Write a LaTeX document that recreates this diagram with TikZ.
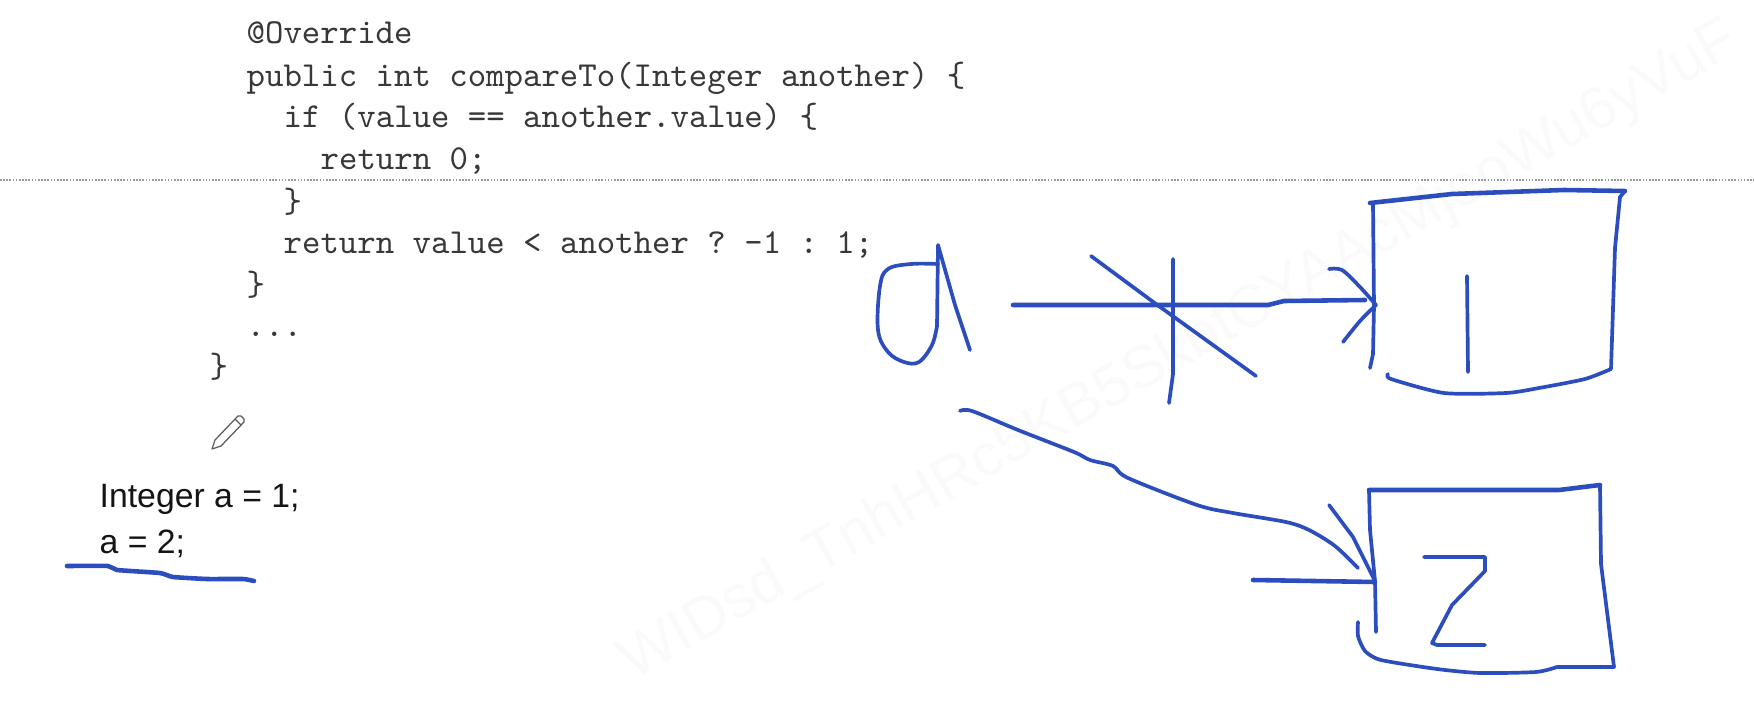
\documentclass[tikz,border=0pt]{standalone}
\usepackage{fontspec}
\setmainfont{Liberation Sans}
\usetikzlibrary{positioning}
\definecolor{inkblue}{HTML}{2B4DBE}
\tikzset{
    ink/.style={draw=inkblue, line width=1.05pt, line cap=round, line join=round},
    inkbold/.style={ink, line width=1.3pt},
    codeline/.style={anchor=base west, inner sep=0pt, text=black!78, font=\ttfamily\frenchspacing\fontsize{9.98pt}{11pt}\selectfont},
    sansline/.style={anchor=base west, inner sep=0pt, text=black!92, font=\fontsize{9.6pt}{11pt}\selectfont}
}
\begin{document}
\begin{tikzpicture}[x=0.01cm,y=-0.01cm]
        \useasboundingbox (0,0) rectangle (1754,706);

        % watermark
        \node[rotate=29.6, text=black!2, font=\fontsize{17pt}{20pt}\selectfont] (mark) at (1180,352) {WIDsd\_TnhHRc5KB5SkbtCYAAcMjeoWu6yVuF};

        % code
        \node[codeline] (override) at (246,44) {@Override};
        \node[codeline] (method) at (246,86) {public int compareTo(Integer another) \{};
        \node[codeline] (iftest) at (283,127) {if (value == another.value) \{};
        \node[codeline] (retzero) at (320,169) {return 0;};
        \node[codeline] (ifend) at (283,212) {\}};
        \node[codeline] (retval) at (283,253) {return value < another ? -1 : 1;};
        \node[codeline] (methodend) at (246,295) {\}};
        \node[codeline] (dots) at (246,336) {...};
        \node[codeline] (classend) at (209,377) {\}};

        \node[sansline] (intline) at (99,507) {Integer a = 1;};
        \node[sansline] (assignline) at (99,553) {a = 2;};

        % page break
        \draw[gray!80, line width=0.45pt, dash pattern=on 0.45pt off 0.45pt] (0,180) -- (1754,180);

        % pencil
        \draw[black!65, line width=0.35pt, fill=white, line join=round]
            (212,449) -- (215,440) -- (238,416) -- (241,416) -- (244,419) -- (244,422) -- (221,446) -- cycle;
        \draw[black!65, line width=0.35pt] (235,419) -- (241,425);

        % underline
        \draw[inkbold] plot[smooth, tension=0.25] coordinates {(67,566) (108,566) (117,570) (160,573) (173,577) (207,579) (243,579) (254,581)};

        % letter a
        \draw[ink] plot[smooth, tension=0.6] coordinates {(938,264) (911,264) (888,269) (880,286) (878,330) (888,352) (904,362) (919,362) (932,345) (937,326)};
        \draw[ink] (937,326) -- (938,245) -- (955,305) -- (970,350);

        % crossed arrow
        \coordinate (crossstart) at (1013,305);
        \coordinate (crossend) at (1365,300);
        \draw[inkbold] (crossstart) -- (1268,305) -- (1284,301) -- (crossend);
        \draw[ink] plot[smooth, tension=0.5] coordinates {(1329,269) (1342,270) (1360,287) (1376,305)};
        \draw[ink] plot[smooth, tension=0.5] coordinates {(1376,305) (1360,321) (1343,342)};
        \draw[ink] (1091,256) -- (1156,304) -- (1256,376);
        \draw[ink] (1173,259) -- (1173,374) -- (1169,403);

        % box 1
        \draw[inkbold] (1370,203) -- (1452,194) -- (1564,190) -- (1625,191);
        \draw[ink] (1625,191) -- (1620,197) -- (1615,248) -- (1611,369);
        \draw[ink] plot[smooth, tension=0.4] coordinates {(1611,369) (1585,379) (1539,388) (1506,393) (1444,393) (1391,379) (1388,374)};
        \draw[ink] (1373,203) -- (1374,306) -- (1373,354) -- (1370,368);
        \draw[ink] (1467,276) -- (1468,372);

        % curved arrow
        \draw[ink] plot[smooth, tension=0.5] coordinates {(960,411) (972,411) (1018,430) (1074,452) (1090,460) (1113,466) (1128,478)
            (1197,505) (1233,513) (1286,522) (1309,530) (1335,546) (1358,568)};
        \draw[ink] (1329,505) -- (1353,537) -- (1375,581);
        \draw[inkbold] (1253,580) -- (1375,582);

        % box 2
        \draw[inkbold] (1369,490) -- (1559,490) -- (1600,485);
        \draw[ink] (1600,485) -- (1601,564) -- (1614,667) -- (1557,667);
        \draw[ink] plot[smooth, tension=0.4] coordinates {(1557,667) (1536,672) (1480,673) (1437,669) (1381,660) (1365,651) (1358,636) (1358,622)};
        \draw[ink] (1369,490) -- (1370,530) -- (1375,581) -- (1376,632);
        \draw[ink] (1424,557) -- (1485,557) -- (1485,571) -- (1452,605) -- (1432,643) -- (1437,645) -- (1485,645);
\end{tikzpicture}
\end{document}
